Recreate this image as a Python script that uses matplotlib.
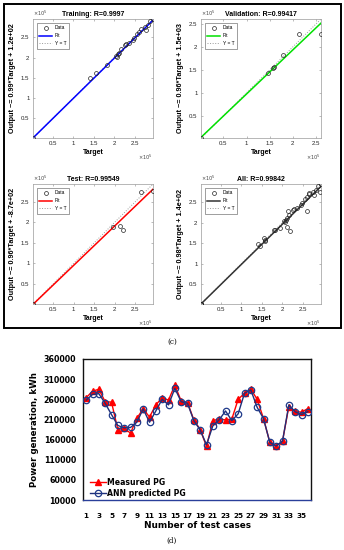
import matplotlib
matplotlib.use('Agg')
import matplotlib.pyplot as plt
from matplotlib.patches import Rectangle
from matplotlib.ticker import FuncFormatter
import numpy as np

W, H = 344, 550

# ---------------- (c) regression panels ----------------
train_target = [1500, 141500, 154500, 183000, 205000, 208000, 210000, 213000, 217000,
                226000, 230000, 236000, 246000, 249000, 256000, 261000, 266000,
                275000, 282000, 279000, 288000, 295000]
train_output = [1500, 148400, 162000, 182000, 204000, 201000, 208000, 212000, 220000,
                231000, 233000, 236000, 244000, 248000, 259000, 263000, 271000,
                276000, 281000, 268000, 291000, 295000]

val_target = [1500, 146000, 157000, 159000, 179000, 214000, 260000]
val_output = [1500, 143000, 155000, 157000, 182000, 228000, 228000]

test_target = [1500, 195000, 213000, 219000, 265000, 293000]
test_output = [1500, 188000, 191000, 181000, 274000, 276000]

fit_params = {  # slope, intercept
    'train': (0.99, 120.0),
    'val': (0.96, 1500.0),
    'test': (0.96, -870.0),
    'all': (0.98, 140.0),
}
titles = ['Training: R=0.9997', 'Validation: R=0.99417', 'Test: R=0.99549', 'All: R=0.99842']
ylabels = ['Output ~= 0.99*Target + 1.2e+02', 'Output ~= 0.96*Target + 1.5e+03',
           'Output ~= 0.96*Target + -8.7e+02', 'Output ~= 0.98*Target + 1.4e+02']
fit_colors = ['#0000ff', '#00e000', '#ff0000', '#333333']
limits = [(1500, 295000), (1500, 261000), (1500, 293000), (1500, 295000)]

# ---------------- (d) power generation ----------------
test_cases = list(range(1, 37))
measured_pg = [264000, 280000, 285000, 254000, 253000, 185000, 188000, 176000, 213000,
               236000, 216000, 246000, 264000, 258000, 295000, 256000, 252000, 209000,
               185000, 143000, 207000, 211000, 209000, 211000, 260000, 275000, 285000,
               260000, 212000, 153000, 144000, 156000, 242000, 230000, 228000, 237000]
ann_pg = [258000, 272000, 274000, 250000, 222000, 195000, 189000, 190000, 203000,
          236000, 203000, 231000, 260000, 246000, 287000, 254000, 250000, 207000,
          184000, 147000, 194000, 209000, 231000, 207000, 224000, 275000, 283000,
          240000, 212000, 153000, 144000, 156000, 246000, 229000, 222000, 229000]
y_ticks = [10000, 60000, 110000, 160000, 210000, 260000, 310000, 360000]
x_ticks = list(range(1, 36, 2))

fig = plt.figure(figsize=(W / 100, H / 100), dpi=100)


def pos(x0, y0, x1, y1):
    return [x0 / W, 1 - y1 / H, (x1 - x0) / W, (y1 - y0) / H]


all_target = train_target + val_target + test_target
all_output = train_output + val_output + test_output
datasets = [(train_target, train_output, 'train'), (val_target, val_output, 'val'),
            (test_target, test_output, 'test'), (all_target, all_output, 'all')]
boxes = [(33, 19, 153, 138), (201, 19, 321, 138), (33, 184, 153, 304), (201, 184, 321, 304)]

rfont = 'Liberation Sans'
for i, ((t, o, key), box) in enumerate(zip(datasets, boxes)):
    ax = fig.add_axes(pos(*box))
    lo, hi = limits[i]
    lim = np.array([lo, hi])
    a, b = fit_params[key]
    ax.plot(t, o, 'o', mfc='none', mec='#222222', ms=2.8, mew=0.5, label='Data', zorder=3)
    ax.plot(lim, a * lim + b, color=fit_colors[i], lw=1.1, label='Fit', zorder=2)
    ax.plot(lim, lim, ':', color='#9a9a9a', lw=0.7, label='Y = T', zorder=1)
    ax.set_xlim(lo, hi)
    ax.set_ylim(lo, hi)
    ticks = [50000, 100000, 150000, 200000, 250000]
    ticks = [v for v in ticks if v <= hi]
    ax.set_xticks(ticks)
    ax.set_yticks(ticks)
    fmt = FuncFormatter(lambda v, p: '%g' % (v / 1e5))
    ax.xaxis.set_major_formatter(fmt)
    ax.yaxis.set_major_formatter(fmt)
    ax.tick_params(direction='in', length=1.5, width=0.4, labelsize=4.4, pad=2.5,
                   top=True, right=True, colors='#888888', labelcolor='#262626')
    for s in ax.spines.values():
        s.set_color('#9a9a9a')
        s.set_linewidth(0.5)
    for lab in ax.get_xticklabels() + ax.get_yticklabels():
        lab.set_fontfamily(rfont)
    ax.set_title(titles[i], fontsize=5.0, fontweight='bold', pad=2, family=rfont)
    ax.set_xlabel('Target', fontsize=5.0, fontweight='bold', labelpad=2, family=rfont)
    ax.set_ylabel(ylabels[i], fontsize=5.2, fontweight='bold', family=rfont)
    ax.yaxis.set_label_coords(-0.145, 0.5)
    ax.text(0.0, 1.01, r'$\times10^5$', transform=ax.transAxes, fontsize=3.6,
            ha='left', va='bottom', color='#444444')
    ax.text(1.0, -0.12, r'$\times10^5$', transform=ax.transAxes, fontsize=3.6,
            ha='right', va='top', color='#444444')
    leg = ax.legend(loc='upper left', handlelength=2.6, borderpad=0.5,
                    labelspacing=0.6, handletextpad=0.6, borderaxespad=0.8,
                    fancybox=False, framealpha=1, prop={'family': rfont, 'size': 3.5})
    leg.get_frame().set_edgecolor('#555555')
    leg.get_frame().set_linewidth(0.4)

# border around panel (c)
fig.add_artist(Rectangle((3.5 / W, 1 - 327.5 / H), 337 / W, 324 / H, transform=fig.transFigure,
                         fill=False, edgecolor='black', linewidth=1.4))
fig.text(172 / W, 1 - 342 / H, '(c)', ha='center', va='center', fontsize=5.2,
         family='DejaVu Serif')

# ---------------- (d) ----------------
bfont = 'DejaVu Sans'
ax2 = fig.add_axes(pos(83, 359, 311, 500))
ax2.plot(test_cases, measured_pg, '-^', color='#ff0000', lw=1.0, ms=4.2, mec='#ff0000',
         mfc='#ff0000', label='Measured PG', zorder=2)
ax2.plot(test_cases, ann_pg, '-o', color='#1f2f7a', lw=1.0, ms=4.6, mfc='none',
         mec='#1f3a8a', mew=0.9, label='ANN predicted PG', zorder=3)
ax2.set_xlim(0.5, 36.5)
ax2.set_ylim(10000, 360000)
ax2.set_yticks(y_ticks)
ax2.set_yticklabels([str(v) for v in y_ticks])
ax2.set_xticks(x_ticks)
ax2.set_xticklabels([str(v) for v in x_ticks])
ax2.tick_params(axis='y', length=0, pad=5, labelsize=5.7)
ax2.tick_params(axis='x', length=0, pad=9, labelsize=5.2)
for lab in ax2.get_xticklabels() + ax2.get_yticklabels():
    lab.set_fontweight('bold')
    lab.set_fontfamily(bfont)
for s in ['left', 'top', 'right']:
    ax2.spines[s].set_color('#111111')
    ax2.spines[s].set_linewidth(1.0)
ax2.spines['bottom'].set_color('#2a3f9a')
ax2.spines['bottom'].set_linewidth(1.0)
ax2.set_xlabel('Number of test cases', fontsize=6.4, fontweight='bold', labelpad=2,
               family=bfont)
ax2.set_ylabel('Power generation, kWh', fontsize=6.2, fontweight='bold', labelpad=3,
               family=bfont)
ax2.legend(loc='lower left', bbox_to_anchor=(0.01, -0.02), frameon=False,
           handlelength=2.0, handletextpad=0.15, labelspacing=0.3, borderaxespad=0.2,
           prop={'family': bfont, 'weight': 'bold', 'size': 5.6})

fig.text(172 / W, 1 - 541 / H, '(d)', ha='center', va='center', fontsize=5.2,
         family='DejaVu Serif')

fig.savefig('out.png', dpi=100)
